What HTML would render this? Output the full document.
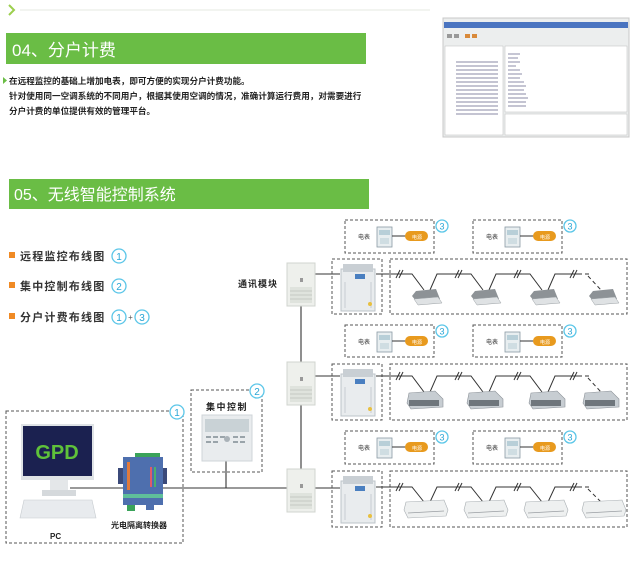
<!DOCTYPE html>
<html><head><meta charset="utf-8"><style>
html,body{margin:0;padding:0;background:#fff;width:643px;height:569px;overflow:hidden}
svg{display:block}
text{font-family:"Liberation Sans","Noto Sans CJK SC",sans-serif}
</style></head><body>
<svg width="643" height="569" viewBox="0 0 643 569" xmlns="http://www.w3.org/2000/svg">
<defs>
  <g id="meter">
    <rect x="0" y="0" width="15" height="20" fill="#e8eef0" stroke="#8a9aa4" stroke-width="0.8"/>
    <rect x="2" y="3" width="11" height="5" fill="#b8cfd8"/>
    <rect x="3" y="11" width="9" height="6" fill="#cfdde2"/>
  </g>
  <g id="pill">
    <rect x="0" y="0" width="23" height="10" rx="5" fill="#e89a1e"/>
  </g>
  <g id="c3">
    <circle cx="0" cy="0" r="6" fill="#fff" stroke="#5bc6e8" stroke-width="1.3"/>
    <text x="0" y="3.5" font-size="9" fill="#2aa6d6" text-anchor="middle">3</text>
  </g>
  <g id="comm">
    <rect x="0" y="0" width="28" height="43" fill="#eef0ec" stroke="#d0d4cf"/>
    <rect x="3" y="24" width="22" height="16" fill="#dfe3dd"/>
    <line x1="3" y1="28" x2="25" y2="28" stroke="#c5cac4"/><line x1="3" y1="32" x2="25" y2="32" stroke="#c5cac4"/><line x1="3" y1="36" x2="25" y2="36" stroke="#c5cac4"/>
    <rect x="13" y="15" width="3" height="4" fill="#999"/>
  </g>
  <g id="odu">
    <rect x="0" y="5" width="34" height="42" fill="#e9ecee" stroke="#bcc3c8"/>
    <rect x="2" y="0" width="30" height="8" fill="#c9cfd4"/>
    <rect x="14" y="10" width="10" height="5" fill="#4a7fc0"/>
    <line x1="4" y1="18" x2="4" y2="44" stroke="#c6ccd1"/><line x1="30" y1="18" x2="30" y2="44" stroke="#c6ccd1"/>
    <circle cx="29" cy="40" r="2" fill="#e8c040"/>
  </g>
  <g id="cas">
    <path d="M-10,-2 L10,-4 L14,6 L-10,8 L-14,3 Z" fill="#8d9296"/>
    <path d="M-12,6 L12,4 L16,10 L-8,12 Z" fill="#dfe2e4" stroke="#9aa0a4" stroke-width="0.5"/>
  </g>
  <g id="duct">
    <path d="M-16,-4 L10,-6 L18,2 L18,10 L-14,12 L-18,6 Z" fill="#c7cdd2" stroke="#8b9197" stroke-width="0.6"/>
    <rect x="-16" y="3" width="30" height="6" fill="#6f767c"/>
  </g>
  <g id="wall">
    <path d="M-20,-4 L18,-6 L22,4 L20,10 L-18,12 L-22,4 Z" fill="#eef0f0" stroke="#a7adb1" stroke-width="0.6"/>
    <line x1="-18" y1="7" x2="18" y2="5" stroke="#9a9fa3" stroke-width="0.8"/>
  </g>
</defs>

<path d="M9,5 L14,10 L9,15" fill="none" stroke="#9ccf4e" stroke-width="2"/>
<line x1="20" y1="10" x2="430" y2="10" stroke="#e4e8e2" stroke-width="1"/>

<rect x="6" y="33" width="360" height="31" fill="#6abd45"/>
<text x="12" y="56" font-size="17" fill="#fff">04、分户计费</text>
<path d="M3,77 L7,80.5 L3,84 Z" fill="#6abd45"/>
<g font-size="8.6" fill="#222" font-weight="bold">
<text x="9" y="84">在远程监控的基础上增加电表，即可方便的实现分户计费功能。</text>
<text x="9" y="99">针对使用同一空调系统的不同用户，根据其使用空调的情况，准确计算运行费用，对需要进行</text>
<text x="9" y="114">分户计费的单位提供有效的管理平台。</text>
</g>

<rect x="443" y="18" width="186" height="119" fill="#eceeee" stroke="#c8c8c8"/>
<rect x="444" y="22" width="184" height="6" fill="#4a74c0"/>
<rect x="447" y="34" width="5" height="4" fill="#999"/><rect x="454" y="34" width="5" height="4" fill="#999"/><rect x="465" y="34" width="5" height="4" fill="#d98a3a"/><rect x="472" y="34" width="5" height="4" fill="#d98a3a"/>
<rect x="445" y="46" width="58" height="89" fill="#fff" stroke="#bbb" stroke-width="0.5"/>
<rect x="505" y="46" width="122" height="66" fill="#fff" stroke="#bbb" stroke-width="0.5"/>
<rect x="505" y="114" width="122" height="21" fill="#fff" stroke="#bbb" stroke-width="0.5"/>
<g stroke="#a0a0b8" stroke-width="1.2">
<line x1="456" y1="62" x2="498" y2="62"/><line x1="456" y1="66" x2="498" y2="66"/><line x1="456" y1="70" x2="498" y2="70"/><line x1="456" y1="74" x2="498" y2="74"/><line x1="456" y1="78" x2="498" y2="78"/><line x1="456" y1="82" x2="498" y2="82"/><line x1="456" y1="86" x2="498" y2="86"/><line x1="456" y1="90" x2="498" y2="90"/><line x1="456" y1="94" x2="498" y2="94"/><line x1="456" y1="98" x2="498" y2="98"/><line x1="456" y1="102" x2="498" y2="102"/><line x1="456" y1="106" x2="498" y2="106"/><line x1="456" y1="110" x2="498" y2="110"/><line x1="456" y1="114" x2="498" y2="114"/>
<line x1="508" y1="54" x2="520" y2="54"/><line x1="508" y1="58" x2="518" y2="58"/><line x1="508" y1="62" x2="520" y2="62"/><line x1="508" y1="66" x2="516" y2="66"/><line x1="508" y1="70" x2="520" y2="70"/><line x1="508" y1="74" x2="522" y2="74"/><line x1="508" y1="78" x2="520" y2="78"/><line x1="508" y1="82" x2="524" y2="82"/><line x1="508" y1="86" x2="526" y2="86"/><line x1="508" y1="90" x2="524" y2="90"/><line x1="508" y1="94" x2="526" y2="94"/><line x1="508" y1="98" x2="528" y2="98"/><line x1="508" y1="102" x2="526" y2="102"/><line x1="508" y1="106" x2="526" y2="106"/>
</g>

<rect x="9" y="179" width="360" height="30" fill="#6abd45"/>
<text x="14" y="200" font-size="16" fill="#fff">05、无线智能控制系统</text>

<g font-size="11" fill="#333" font-weight="bold" letter-spacing="1.2">
<rect x="9" y="252" width="6" height="6" fill="#f08a24"/><text x="20" y="260">远程监控布线图</text>
<rect x="9" y="282" width="6" height="6" fill="#f08a24"/><text x="20" y="290">集中控制布线图</text>
<rect x="9" y="313" width="6" height="6" fill="#f08a24"/><text x="20" y="321">分户计费布线图</text>
</g>
<g fill="#fff" stroke="#5bc6e8" stroke-width="1.3">
<circle cx="119" cy="256" r="7"/><circle cx="119" cy="286" r="7"/><circle cx="119" cy="317" r="7"/><circle cx="142" cy="317" r="7"/>
</g>
<g font-size="10" fill="#2aa6d6" text-anchor="middle">
<text x="119" y="260">1</text><text x="119" y="290">2</text><text x="119" y="321">1</text><text x="142" y="321">3</text>
<text x="130.5" y="320" fill="#555" font-size="8">+</text>
</g>

<g stroke="#333" stroke-width="1.1" fill="none">
<line x1="301" y1="305" x2="301" y2="362"/>
<line x1="301" y1="405" x2="301" y2="469"/>
<line x1="70" y1="488" x2="287" y2="488"/>
<line x1="226" y1="460" x2="226" y2="488"/>
<line x1="315" y1="488" x2="340" y2="488"/>
<line x1="315" y1="274" x2="340" y2="274"/>
<line x1="315" y1="376" x2="340" y2="376"/>
</g>

<g stroke="#555" stroke-width="1" stroke-dasharray="3,2" fill="none">
  <rect x="345" y="220" width="89" height="33"/><rect x="473" y="220" width="89" height="33"/>
  <rect x="332" y="259" width="50" height="55"/><rect x="390" y="259" width="237" height="55"/>
  <rect x="345" y="325" width="89" height="32"/><rect x="473" y="325" width="89" height="32"/>
  <rect x="332" y="364" width="50" height="56"/><rect x="390" y="364" width="237" height="56"/>
  <rect x="345" y="431" width="89" height="33"/><rect x="473" y="431" width="89" height="33"/>
  <rect x="332" y="471" width="50" height="56"/><rect x="390" y="471" width="237" height="56"/>
</g>

<text x="358" y="239" font-size="6" fill="#333">电表</text><use href="#meter" x="377" y="227"/><line x1="392" y1="236" x2="406" y2="236" stroke="#333"/><use href="#pill" x="405" y="231"/><text x="412" y="239" font-size="5" fill="#fff">电源</text>
<text x="486" y="239" font-size="6" fill="#333">电表</text><use href="#meter" x="505" y="227"/><line x1="520" y1="236" x2="534" y2="236" stroke="#333"/><use href="#pill" x="533" y="231"/><text x="540" y="239" font-size="5" fill="#fff">电源</text>
<use href="#c3" x="442" y="226"/><use href="#c3" x="570" y="226"/>
<text x="238" y="287" font-size="9" fill="#222" font-weight="bold" letter-spacing="1">通讯模块</text>
<use href="#comm" x="287" y="263"/>
<use href="#odu" x="341" y="264"/>
<g stroke="#333" stroke-width="1" fill="none">
  <path d="M376,274 L412,274 L424,290 M430,290 L437,274 L471,274 L483,290 M489,290 L496,274 L530,274 L542,290 M548,290 L555,274 L578,274"/>
  <path d="M578,274 L592,274 M588,276 L601,290" stroke-dasharray="4,3"/>
  <path d="M396,278 L400,270 M399,278 L403,270 M455,278 L459,270 M458,278 L462,270 M514,278 L518,270 M517,278 L521,270 M570,278 L574,270 M573,278 L577,270"/>
</g>
<use href="#cas" x="426" y="293"/><use href="#cas" x="485" y="293"/><use href="#cas" x="544" y="293"/><use href="#cas" x="603" y="293"/>

<text x="358" y="344" font-size="6" fill="#333">电表</text><use href="#meter" x="377" y="332"/><line x1="392" y1="341" x2="406" y2="341" stroke="#333"/><use href="#pill" x="405" y="336"/><text x="412" y="344" font-size="5" fill="#fff">电源</text>
<text x="486" y="344" font-size="6" fill="#333">电表</text><use href="#meter" x="505" y="332"/><line x1="520" y1="341" x2="534" y2="341" stroke="#333"/><use href="#pill" x="533" y="336"/><text x="540" y="344" font-size="5" fill="#fff">电源</text>
<use href="#c3" x="442" y="331"/><use href="#c3" x="570" y="331"/>
<use href="#comm" x="287" y="362"/>
<use href="#odu" x="341" y="369"/>
<g stroke="#333" stroke-width="1" fill="none">
  <path d="M376,376 L412,376 L424,392 M430,392 L437,376 L471,376 L483,392 M489,392 L496,376 L530,376 L542,392 M548,392 L555,376 L578,376"/>
  <path d="M578,376 L592,376 M588,378 L601,392" stroke-dasharray="4,3"/>
  <path d="M396,380 L400,372 M399,380 L403,372 M455,380 L459,372 M458,380 L462,372 M514,380 L518,372 M517,380 L521,372 M570,380 L574,372 M573,380 L577,372"/>
</g>
<use href="#duct" x="425" y="397"/><use href="#duct" x="485" y="397"/><use href="#duct" x="547" y="397"/><use href="#duct" x="601" y="397"/>

<text x="358" y="450" font-size="6" fill="#333">电表</text><use href="#meter" x="377" y="438"/><line x1="392" y1="447" x2="406" y2="447" stroke="#333"/><use href="#pill" x="405" y="442"/><text x="412" y="450" font-size="5" fill="#fff">电源</text>
<text x="486" y="450" font-size="6" fill="#333">电表</text><use href="#meter" x="505" y="438"/><line x1="520" y1="447" x2="534" y2="447" stroke="#333"/><use href="#pill" x="533" y="442"/><text x="540" y="450" font-size="5" fill="#fff">电源</text>
<use href="#c3" x="442" y="437"/><use href="#c3" x="570" y="437"/>
<use href="#comm" x="287" y="469"/>
<use href="#odu" x="341" y="476"/>
<g stroke="#333" stroke-width="1" fill="none">
  <path d="M376,487 L412,487 L424,502 M430,502 L437,487 L471,487 L483,502 M489,502 L496,487 L530,487 L542,502 M548,502 L555,487 L578,487"/>
  <path d="M578,487 L592,487 M588,489 L601,502" stroke-dasharray="4,3"/>
  <path d="M396,491 L400,483 M399,491 L403,483 M455,491 L459,483 M458,491 L462,483 M514,491 L518,483 M517,491 L521,483 M570,491 L574,483 M573,491 L577,483"/>
</g>
<use href="#wall" x="426" y="506"/><use href="#wall" x="486" y="506"/><use href="#wall" x="546" y="506"/><use href="#wall" x="604" y="506"/>

<rect x="6" y="411" width="177" height="132" fill="none" stroke="#555" stroke-dasharray="3,2"/>
<circle cx="177" cy="412" r="7" fill="#fff" stroke="#5bc6e8" stroke-width="1.3"/><text x="177" y="416" font-size="10" fill="#2aa6d6" text-anchor="middle">1</text>
<rect x="21" y="424" width="73" height="56" fill="#dfe3e6"/>
<rect x="23" y="426" width="69" height="50" fill="#1b2150"/>
<text x="57" y="459" font-size="20" font-weight="bold" fill="#5fc23a" text-anchor="middle">GPD</text>
<rect x="50" y="480" width="18" height="12" fill="#e4e7e9"/>
<rect x="42" y="490" width="34" height="6" fill="#d5d9dc"/>
<path d="M24,500 L92,500 L96,518 L20,518 Z" fill="#e8ebee" stroke="#c6cbcf" stroke-width="0.6"/>
<text x="50" y="539" font-size="8" font-weight="bold" fill="#222">PC</text>
<rect x="135" y="453" width="25" height="5" fill="#3aa35a"/>
<rect x="118" y="468" width="8" height="16" fill="#3b4a7a"/><rect x="159" y="468" width="8" height="16" fill="#3b4a7a"/>
<rect x="123" y="457" width="40" height="48" fill="#4e6fae"/>
<rect x="127" y="462" width="3" height="28" fill="#e07a3c"/>
<rect x="150" y="467" width="2" height="20" fill="#e05a6a"/><rect x="154" y="467" width="2" height="20" fill="#4ab06a"/>
<rect x="123" y="494" width="40" height="4" fill="#5fbf9a"/>
<rect x="127" y="505" width="8" height="6" fill="#3aa35a"/><rect x="146" y="505" width="8" height="5" fill="#4e6fae"/>
<text x="111" y="528" font-size="8" font-weight="bold" fill="#222">光电隔离转换器</text>

<rect x="191" y="390" width="71" height="82" fill="none" stroke="#555" stroke-dasharray="3,2"/>
<circle cx="257" cy="391" r="7" fill="#fff" stroke="#5bc6e8" stroke-width="1.3"/><text x="257" y="395" font-size="10" fill="#2aa6d6" text-anchor="middle">2</text>
<text x="206" y="410" font-size="9" font-weight="bold" fill="#222" letter-spacing="1.5">集中控制</text>
<rect x="202" y="415" width="50" height="46" fill="#e9ecee" stroke="#cfd4d8"/>
<rect x="205" y="419" width="44" height="13" fill="#c9d2d6"/>
<g fill="#9aa4aa"><rect x="206" y="436" width="5" height="2"/><rect x="213" y="436" width="5" height="2"/><rect x="220" y="436" width="5" height="2"/><rect x="233" y="436" width="5" height="2"/><rect x="240" y="436" width="5" height="2"/><rect x="206" y="441" width="5" height="2"/><rect x="213" y="441" width="5" height="2"/><rect x="233" y="441" width="5" height="2"/><rect x="240" y="441" width="5" height="2"/></g>
<circle cx="227" cy="439" r="3" fill="#aab2b8"/>
</svg>
</body></html>
